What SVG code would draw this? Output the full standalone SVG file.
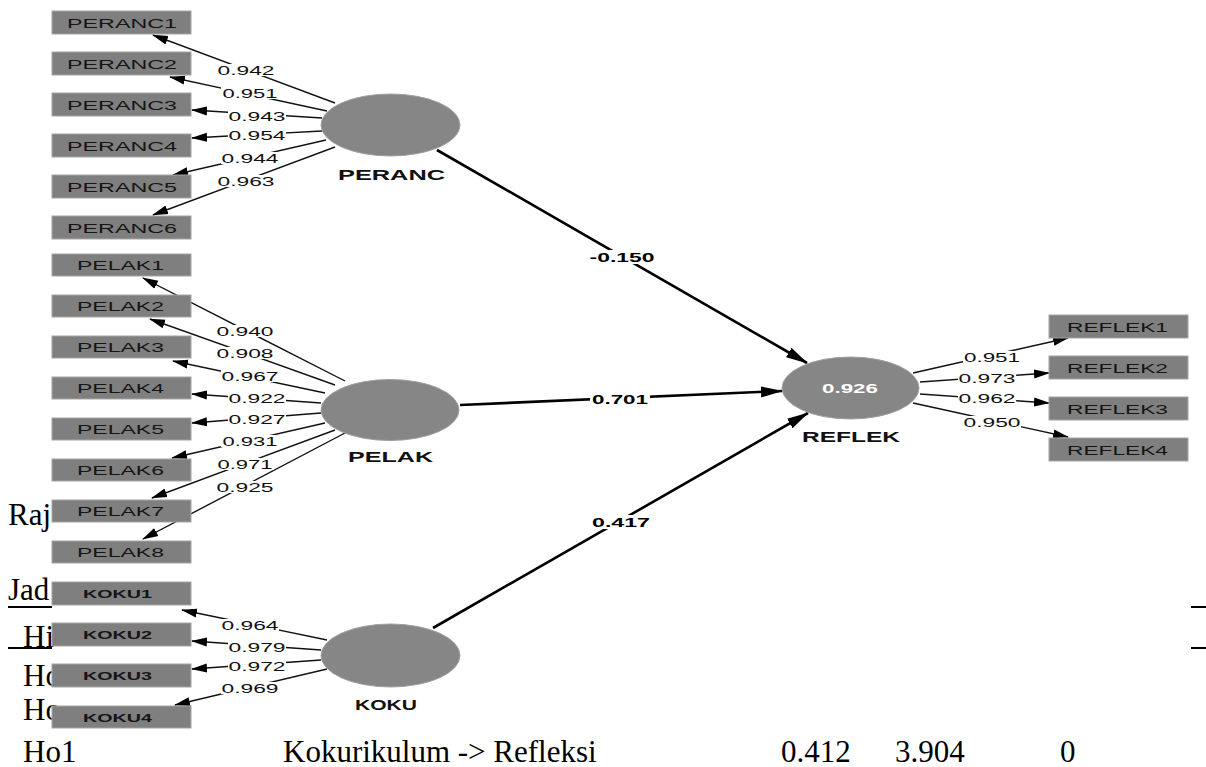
<svg xmlns="http://www.w3.org/2000/svg" width="1206" height="767" viewBox="0 0 1206 767">
<style>
.doc{font-family:"Liberation Serif","Times New Roman",serif;font-size:31px;fill:#000}
.rule{stroke:#000;stroke-width:2}
.ind{fill:#7f7f7f;stroke:#a6a6a6;stroke-width:1}
.lv{fill:#868686;stroke:#a0a0a0;stroke-width:1}
.bt{font-family:"Liberation Sans",Arial,sans-serif;font-size:12px;fill:#151515;text-anchor:middle}
.kt{font-family:"Liberation Sans",Arial,sans-serif;font-size:11px;font-weight:bold;fill:#151515;text-anchor:middle}
.lt{font-family:"Liberation Sans",Arial,sans-serif;font-size:14px;font-weight:bold;fill:#111;text-anchor:middle}
.r2{font-family:"Liberation Sans",Arial,sans-serif;font-size:13.5px;font-weight:bold;fill:#fff;text-anchor:middle}
.il{stroke:#111;stroke-width:1.4;fill:none;marker-end:url(#ah)}
.sp{stroke:#000;stroke-width:2.6;fill:none;marker-end:url(#ahb)}
.gap{fill:#fff}
.nl{font-family:"Liberation Sans",Arial,sans-serif;font-size:12.5px;fill:#111;text-anchor:middle}
.sl{font-family:"Liberation Sans",Arial,sans-serif;font-size:13.5px;font-weight:bold;fill:#000;text-anchor:middle}
</style>
<defs>
<marker id="ah" markerUnits="userSpaceOnUse" markerWidth="16" markerHeight="10" refX="15" refY="5" orient="auto"><path d="M0,0.5 L16,5 L0,9.5 z" fill="#000"/></marker>
<marker id="ahb" markerUnits="userSpaceOnUse" markerWidth="22" markerHeight="12" refX="21" refY="6" orient="auto"><path d="M0,0.5 L22,6 L0,11.5 z" fill="#000"/></marker>
</defs>
<rect width="1206" height="767" fill="#fff"/>

<g id="document-text">
<text class="doc" x="8" y="525">Raj</text>
<text class="doc" x="8" y="600">Jad</text>
<line class="rule" x1="8" y1="607" x2="52" y2="607"/>
<text class="doc" x="23" y="647">Hi</text>
<line class="rule" x1="8" y1="648" x2="52" y2="648"/>
<text class="doc" x="23" y="686">Ho</text>
<text class="doc" x="23" y="720">Ho</text>
<text class="doc" x="23" y="762">Ho1</text>
<text class="doc" x="283" y="762">Kokurikulum -&gt; Refleksi</text>
<text class="doc" x="781" y="762">0.412</text>
<text class="doc" x="895" y="762">3.904</text>
<text class="doc" x="1060" y="762">0</text>
<line class="rule" x1="1191" y1="607" x2="1206" y2="607"/>
<line class="rule" x1="1191" y1="648" x2="1206" y2="648"/>
</g>

<g id="connectors">
<!-- PERANC indicators -->
<line class="il" x1="335" y1="103" x2="153" y2="35"/>
<line class="il" x1="327" y1="111" x2="170" y2="77"/>
<line class="il" x1="322" y1="118" x2="192" y2="110"/>
<line class="il" x1="322" y1="131" x2="192" y2="138"/>
<line class="il" x1="326" y1="140" x2="173" y2="175"/>
<line class="il" x1="335" y1="147" x2="153" y2="215"/>
<!-- PELAK indicators -->
<line class="il" x1="345" y1="381" x2="143" y2="278"/>
<line class="il" x1="335" y1="385" x2="150" y2="319"/>
<line class="il" x1="325" y1="393" x2="173" y2="361"/>
<line class="il" x1="321" y1="403" x2="192" y2="394"/>
<line class="il" x1="321" y1="413" x2="192" y2="423"/>
<line class="il" x1="325" y1="423" x2="172" y2="458"/>
<line class="il" x1="335" y1="430" x2="152" y2="498"/>
<line class="il" x1="345" y1="433" x2="143" y2="539"/>
<!-- KOKU indicators -->
<line class="il" x1="327" y1="640" x2="182" y2="610"/>
<line class="il" x1="321" y1="650" x2="192" y2="641"/>
<line class="il" x1="321" y1="660" x2="192" y2="669"/>
<line class="il" x1="327" y1="669" x2="175" y2="705"/>
<!-- REFLEK indicators -->
<line class="il" x1="913" y1="373" x2="1068" y2="338"/>
<line class="il" x1="920" y1="382" x2="1049" y2="373"/>
<line class="il" x1="920" y1="394" x2="1049" y2="403"/>
<line class="il" x1="913" y1="403" x2="1068" y2="437"/>
<!-- structural paths -->
<line class="sp" x1="437" y1="150" x2="807" y2="363"/>
<line class="sp" x1="460" y1="405" x2="782" y2="391"/>
<line class="sp" x1="433" y1="628" x2="808" y2="413"/>

<!-- label gaps -->
<rect class="gap" x="217" y="64" width="58" height="12"/>
<rect class="gap" x="221" y="87" width="58" height="12"/>
<rect class="gap" x="228" y="110" width="58" height="12"/>
<rect class="gap" x="228" y="129" width="58" height="12"/>
<rect class="gap" x="221" y="152" width="58" height="12"/>
<rect class="gap" x="217" y="175" width="58" height="12"/>

<rect class="gap" x="216" y="325" width="58" height="12"/>
<rect class="gap" x="216" y="347" width="58" height="12"/>
<rect class="gap" x="221" y="370" width="58" height="12"/>
<rect class="gap" x="228" y="392" width="58" height="12"/>
<rect class="gap" x="228" y="413" width="58" height="12"/>
<rect class="gap" x="221" y="435" width="58" height="12"/>
<rect class="gap" x="216" y="458" width="58" height="12"/>
<rect class="gap" x="216" y="481" width="58" height="12"/>

<rect class="gap" x="221" y="619" width="58" height="12"/>
<rect class="gap" x="228" y="641" width="58" height="12"/>
<rect class="gap" x="228" y="660" width="58" height="12"/>
<rect class="gap" x="221" y="682" width="58" height="12"/>

<rect class="gap" x="963" y="351" width="58" height="12"/>
<rect class="gap" x="958" y="373" width="58" height="12"/>
<rect class="gap" x="958" y="392" width="58" height="12"/>
<rect class="gap" x="963" y="416" width="58" height="12"/>

<rect class="gap" x="588" y="250" width="68" height="14"/>
<rect class="gap" x="590" y="392" width="60" height="14"/>
<rect class="gap" x="590" y="515" width="60" height="14"/>

<!-- labels -->
<text class="nl" x="246" y="74.5" textLength="57" lengthAdjust="spacingAndGlyphs">0.942</text>
<text class="nl" x="250" y="97.5" textLength="55" lengthAdjust="spacingAndGlyphs">0.951</text>
<text class="nl" x="257" y="120.5" textLength="57" lengthAdjust="spacingAndGlyphs">0.943</text>
<text class="nl" x="257" y="139.5" textLength="57" lengthAdjust="spacingAndGlyphs">0.954</text>
<text class="nl" x="250" y="162.5" textLength="57" lengthAdjust="spacingAndGlyphs">0.944</text>
<text class="nl" x="246" y="185.5" textLength="57" lengthAdjust="spacingAndGlyphs">0.963</text>

<text class="nl" x="245" y="335.5" textLength="57" lengthAdjust="spacingAndGlyphs">0.940</text>
<text class="nl" x="245" y="357.5" textLength="57" lengthAdjust="spacingAndGlyphs">0.908</text>
<text class="nl" x="250" y="380.5" textLength="57" lengthAdjust="spacingAndGlyphs">0.967</text>
<text class="nl" x="257" y="402.5" textLength="57" lengthAdjust="spacingAndGlyphs">0.922</text>
<text class="nl" x="257" y="423.5" textLength="57" lengthAdjust="spacingAndGlyphs">0.927</text>
<text class="nl" x="250" y="445.5" textLength="55" lengthAdjust="spacingAndGlyphs">0.931</text>
<text class="nl" x="245" y="468.5" textLength="55" lengthAdjust="spacingAndGlyphs">0.971</text>
<text class="nl" x="245" y="491.5" textLength="57" lengthAdjust="spacingAndGlyphs">0.925</text>

<text class="nl" x="250" y="629.5" textLength="57" lengthAdjust="spacingAndGlyphs">0.964</text>
<text class="nl" x="257" y="651.5" textLength="57" lengthAdjust="spacingAndGlyphs">0.979</text>
<text class="nl" x="257" y="670.5" textLength="57" lengthAdjust="spacingAndGlyphs">0.972</text>
<text class="nl" x="250" y="692.5" textLength="57" lengthAdjust="spacingAndGlyphs">0.969</text>

<text class="nl" x="992" y="361.5" textLength="56" lengthAdjust="spacingAndGlyphs">0.951</text>
<text class="nl" x="987" y="383" textLength="57" lengthAdjust="spacingAndGlyphs">0.973</text>
<text class="nl" x="987" y="402.5" textLength="57" lengthAdjust="spacingAndGlyphs">0.962</text>
<text class="nl" x="992" y="426.5" textLength="57" lengthAdjust="spacingAndGlyphs">0.950</text>

<text class="sl" x="622" y="262" textLength="65" lengthAdjust="spacingAndGlyphs">-0.150</text>
<text class="sl" x="620" y="404" textLength="56" lengthAdjust="spacingAndGlyphs">0.701</text>
<text class="sl" x="621" y="527" textLength="58" lengthAdjust="spacingAndGlyphs">0.417</text>
</g>

<g id="PERANC">
<ellipse class="lv" cx="390.5" cy="125" rx="69.5" ry="31"/>
<text class="lt" x="391.5" y="180" textLength="107" lengthAdjust="spacingAndGlyphs">PERANC</text>
</g>
<g id="PELAK">
<ellipse class="lv" cx="390" cy="410" rx="69" ry="30.5"/>
<text class="lt" x="390.5" y="462" textLength="85" lengthAdjust="spacingAndGlyphs">PELAK</text>
</g>
<g id="KOKU">
<ellipse class="lv" cx="390.5" cy="655.5" rx="69.5" ry="31.5"/>
<text class="lt" x="386" y="710" textLength="62" lengthAdjust="spacingAndGlyphs">KOKU</text>
</g>
<g id="REFLEK">
<ellipse class="lv" cx="850.5" cy="388" rx="68.5" ry="31"/>
<text class="r2" x="850" y="393" textLength="56" lengthAdjust="spacingAndGlyphs">0.926</text>
<text class="lt" x="851" y="442" textLength="98" lengthAdjust="spacingAndGlyphs">REFLEK</text>
</g>

<g id="PERANC1"><rect class="ind" x="52" y="11" width="139" height="23"/><text class="bt" x="122" y="28" textLength="110" lengthAdjust="spacingAndGlyphs">PERANC1</text></g>
<g id="PERANC2"><rect class="ind" x="52" y="52" width="139" height="23"/><text class="bt" x="122" y="69" textLength="110" lengthAdjust="spacingAndGlyphs">PERANC2</text></g>
<g id="PERANC3"><rect class="ind" x="52" y="93" width="139" height="23"/><text class="bt" x="122" y="110" textLength="110" lengthAdjust="spacingAndGlyphs">PERANC3</text></g>
<g id="PERANC4"><rect class="ind" x="52" y="134" width="139" height="23"/><text class="bt" x="122" y="151" textLength="110" lengthAdjust="spacingAndGlyphs">PERANC4</text></g>
<g id="PERANC5"><rect class="ind" x="52" y="175" width="139" height="23"/><text class="bt" x="122" y="192" textLength="110" lengthAdjust="spacingAndGlyphs">PERANC5</text></g>
<g id="PERANC6"><rect class="ind" x="52" y="216" width="139" height="23"/><text class="bt" x="122" y="233" textLength="110" lengthAdjust="spacingAndGlyphs">PERANC6</text></g>

<g id="PELAK1"><rect class="ind" x="52" y="254" width="139" height="22"/><text class="bt" x="120.5" y="270" textLength="87" lengthAdjust="spacingAndGlyphs">PELAK1</text></g>
<g id="PELAK2"><rect class="ind" x="52" y="295" width="139" height="22"/><text class="bt" x="120.5" y="311" textLength="87" lengthAdjust="spacingAndGlyphs">PELAK2</text></g>
<g id="PELAK3"><rect class="ind" x="52" y="336" width="139" height="22"/><text class="bt" x="120.5" y="352" textLength="87" lengthAdjust="spacingAndGlyphs">PELAK3</text></g>
<g id="PELAK4"><rect class="ind" x="52" y="377" width="139" height="22"/><text class="bt" x="120.5" y="393" textLength="87" lengthAdjust="spacingAndGlyphs">PELAK4</text></g>
<g id="PELAK5"><rect class="ind" x="52" y="418" width="139" height="22"/><text class="bt" x="120.5" y="434" textLength="87" lengthAdjust="spacingAndGlyphs">PELAK5</text></g>
<g id="PELAK6"><rect class="ind" x="52" y="459" width="139" height="22"/><text class="bt" x="120.5" y="475" textLength="87" lengthAdjust="spacingAndGlyphs">PELAK6</text></g>
<g id="PELAK7"><rect class="ind" x="52" y="500" width="139" height="22"/><text class="bt" x="120.5" y="516" textLength="87" lengthAdjust="spacingAndGlyphs">PELAK7</text></g>
<g id="PELAK8"><rect class="ind" x="52" y="541" width="139" height="22"/><text class="bt" x="120.5" y="557" textLength="87" lengthAdjust="spacingAndGlyphs">PELAK8</text></g>

<g id="KOKU1"><rect class="ind" x="52" y="582" width="139" height="23"/><text class="kt" x="117.5" y="598" textLength="69" lengthAdjust="spacingAndGlyphs">KOKU1</text></g>
<g id="KOKU2"><rect class="ind" x="52" y="623" width="139" height="23"/><text class="kt" x="117.5" y="639" textLength="69" lengthAdjust="spacingAndGlyphs">KOKU2</text></g>
<g id="KOKU3"><rect class="ind" x="52" y="664" width="139" height="23"/><text class="kt" x="117.5" y="680" textLength="69" lengthAdjust="spacingAndGlyphs">KOKU3</text></g>
<g id="KOKU4"><rect class="ind" x="52" y="706" width="139" height="22"/><text class="kt" x="117.5" y="722" textLength="69" lengthAdjust="spacingAndGlyphs">KOKU4</text></g>

<g id="REFLEK1"><rect class="ind" x="1049" y="315" width="139" height="23"/><text class="bt" x="1117.5" y="332" textLength="101" lengthAdjust="spacingAndGlyphs">REFLEK1</text></g>
<g id="REFLEK2"><rect class="ind" x="1049" y="356" width="139" height="23"/><text class="bt" x="1117.5" y="373" textLength="101" lengthAdjust="spacingAndGlyphs">REFLEK2</text></g>
<g id="REFLEK3"><rect class="ind" x="1049" y="397" width="139" height="23"/><text class="bt" x="1117.5" y="414" textLength="101" lengthAdjust="spacingAndGlyphs">REFLEK3</text></g>
<g id="REFLEK4"><rect class="ind" x="1049" y="438" width="139" height="23"/><text class="bt" x="1117.5" y="455" textLength="101" lengthAdjust="spacingAndGlyphs">REFLEK4</text></g>
</svg>
